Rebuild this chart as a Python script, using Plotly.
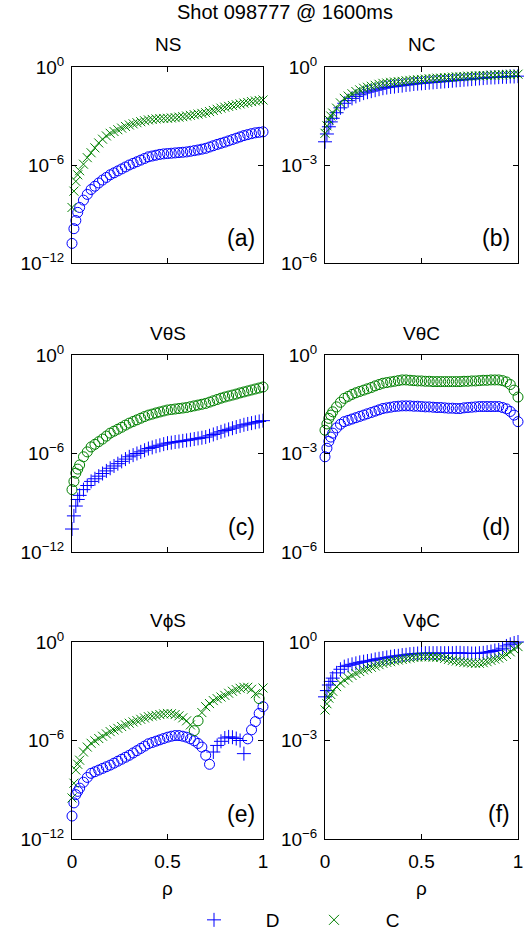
import plotly.graph_objects as go

# ---------------- data (log10 of magnitude) ----------------
RHO = [0.00, 0.01, 0.02, 0.03, 0.04, 0.06, 0.08, 0.10, 0.12, 0.14,
       0.16, 0.18, 0.20, 0.22, 0.24, 0.26, 0.28, 0.30, 0.32, 0.34,
       0.36, 0.38, 0.40, 0.42, 0.44, 0.46, 0.48, 0.50, 0.52, 0.54,
       0.56, 0.58, 0.60, 0.62, 0.64, 0.66, 0.68, 0.70, 0.72, 0.74,
       0.76, 0.78, 0.80, 0.82, 0.84, 0.86, 0.88, 0.90, 0.92, 0.94,
       0.96, 0.98, 1.00]

NS_D = [-10.8, -9.9, -9.4, -8.9, -8.6, -8.15, -7.8, -7.5, -7.3, -7.1,
        -6.92, -6.76, -6.6, -6.48, -6.36, -6.24, -6.12, -6.0, -5.9, -5.8,
        -5.7, -5.6, -5.5, -5.45, -5.4, -5.35, -5.32, -5.3, -5.28, -5.26,
        -5.24, -5.22, -5.2, -5.16, -5.12, -5.08, -5.03, -4.98, -4.9, -4.82,
        -4.74, -4.67, -4.6, -4.52, -4.44, -4.36, -4.28, -4.2, -4.14, -4.08,
        -4.03, -4.0, -3.97]
NS_C = [-8.6, -7.6, -7.0, -6.6, -6.35, -5.95, -5.55, -5.25, -4.95, -4.65,
        -4.42, -4.22, -4.06, -3.95, -3.84, -3.74, -3.64, -3.55, -3.48, -3.41,
        -3.35, -3.29, -3.24, -3.21, -3.18, -3.16, -3.15, -3.14, -3.12, -3.10,
        -3.07, -3.04, -3.0, -2.96, -2.92, -2.88, -2.84, -2.80, -2.73, -2.66,
        -2.59, -2.52, -2.46, -2.41, -2.36, -2.31, -2.26, -2.21, -2.17, -2.12,
        -2.08, -2.05, -2.02]

NC_D = [-2.29, -2.05, -1.83, -1.68, -1.57, -1.40, -1.25, -1.11, -1.03, -0.96,
        -0.9, -0.85, -0.8, -0.77, -0.74, -0.71, -0.68, -0.65, -0.63, -0.61,
        -0.6, -0.58, -0.57, -0.55, -0.54, -0.52, -0.51, -0.5, -0.49, -0.48,
        -0.47, -0.46, -0.45, -0.44, -0.43, -0.42, -0.41, -0.4, -0.39, -0.38,
        -0.37, -0.36, -0.35, -0.34, -0.33, -0.32, -0.32, -0.31, -0.30, -0.30,
        -0.29, -0.29, -0.28]
NC_C = [-2.03, -1.8, -1.62, -1.5, -1.41, -1.26, -1.1, -0.96, -0.89, -0.82,
        -0.75, -0.7, -0.65, -0.62, -0.59, -0.56, -0.53, -0.5, -0.49, -0.47,
        -0.46, -0.45, -0.44, -0.42, -0.41, -0.4, -0.39, -0.38, -0.37, -0.36,
        -0.35, -0.34, -0.34, -0.33, -0.32, -0.31, -0.3, -0.3, -0.29, -0.28,
        -0.28, -0.27, -0.27, -0.26, -0.26, -0.25, -0.25, -0.24, -0.24, -0.23,
        -0.23, -0.22, -0.22]

VTS_D = [-10.6, -9.8, -9.2, -8.8, -8.55, -8.2, -7.95, -7.7, -7.54, -7.38,
         -7.22, -7.06, -6.9, -6.76, -6.62, -6.48, -6.34, -6.2, -6.1, -6.0,
         -5.9, -5.8, -5.7, -5.63, -5.56, -5.5, -5.43, -5.37, -5.34, -5.3,
         -5.27, -5.23, -5.2, -5.16, -5.12, -5.08, -5.04, -5.0, -4.92, -4.84,
         -4.76, -4.68, -4.6, -4.53, -4.46, -4.39, -4.32, -4.25, -4.2, -4.15,
         -4.1, -4.05, -4.0]
VTS_C = [-8.2, -7.7, -7.2, -6.95, -6.7, -6.2, -5.9, -5.6, -5.44, -5.28,
         -5.12, -4.94, -4.76, -4.64, -4.52, -4.4, -4.27, -4.15, -4.05, -3.95,
         -3.85, -3.75, -3.66, -3.6, -3.53, -3.47, -3.41, -3.35, -3.32, -3.29,
         -3.26, -3.23, -3.2, -3.15, -3.1, -3.05, -3.0, -2.95, -2.87, -2.79,
         -2.71, -2.63, -2.56, -2.5, -2.44, -2.38, -2.31, -2.25, -2.19, -2.13,
         -2.07, -2.01, -1.95]

VTC_D = [-3.1, -2.84, -2.63, -2.5, -2.38, -2.22, -2.11, -2.03, -1.99, -1.95,
         -1.91, -1.87, -1.83, -1.79, -1.75, -1.71, -1.67, -1.63, -1.61, -1.59,
         -1.57, -1.56, -1.55, -1.55, -1.55, -1.56, -1.56, -1.57, -1.58, -1.58,
         -1.59, -1.6, -1.6, -1.61, -1.62, -1.62, -1.63, -1.63, -1.61, -1.6,
         -1.59, -1.58, -1.57, -1.57, -1.57, -1.57, -1.57, -1.57, -1.6, -1.64,
         -1.72, -1.83, -2.03]
VTC_C = [-2.29, -2.1, -1.93, -1.83, -1.73, -1.58, -1.44, -1.32, -1.26, -1.2,
         -1.15, -1.11, -1.07, -1.03, -0.99, -0.94, -0.9, -0.86, -0.84, -0.82,
         -0.8, -0.78, -0.76, -0.76, -0.77, -0.78, -0.79, -0.79, -0.8, -0.8,
         -0.81, -0.81, -0.81, -0.81, -0.81, -0.81, -0.81, -0.81, -0.8, -0.8,
         -0.79, -0.79, -0.78, -0.77, -0.77, -0.76, -0.76, -0.76, -0.78, -0.82,
         -0.9, -1.07, -1.28]

VPS_D = [-10.6, -9.8, -9.3, -9.1, -8.9, -8.54, -8.25, -8.0, -7.9, -7.8,
         -7.7, -7.6, -7.5, -7.38, -7.26, -7.14, -7.02, -6.9, -6.76, -6.62,
         -6.48, -6.34, -6.2, -6.12, -6.04, -5.96, -5.88, -5.8, -5.74, -5.7,
         -5.7, -5.74, -5.8, -5.9, -6.02, -6.18, -6.4, -6.9, -7.45, -6.7,
         -6.3, -6.05, -5.85, -5.78, -5.8, -5.88, -6.0, -6.8, -5.9, -5.35,
         -4.85, -4.35, -3.94]
VPS_C = [-9.5, -8.6, -7.8, -7.45, -7.2, -6.7, -6.4, -6.17, -6.02, -5.88,
         -5.74, -5.6, -5.46, -5.36, -5.26, -5.15, -5.05, -4.95, -4.87, -4.79,
         -4.71, -4.63, -4.55, -4.51, -4.47, -4.42, -4.38, -4.35, -4.37, -4.42,
         -4.5, -4.62, -4.8, -5.05, -5.4, -4.8, -4.3, -3.94, -3.75, -3.57,
         -3.45, -3.35, -3.25, -3.12, -3.0, -2.9, -2.82, -2.76, -2.76, -2.88,
         -3.15, -3.45, -2.8]

VPC_D = [-1.67, -1.48, -1.31, -1.2, -1.1, -0.94, -0.83, -0.75, -0.71, -0.68,
         -0.65, -0.62, -0.6, -0.58, -0.56, -0.53, -0.51, -0.49, -0.47, -0.45,
         -0.43, -0.42, -0.4, -0.39, -0.37, -0.36, -0.35, -0.34, -0.34, -0.34,
         -0.34, -0.34, -0.34, -0.34, -0.34, -0.34, -0.33, -0.33, -0.34, -0.34,
         -0.35, -0.35, -0.34, -0.33, -0.31, -0.29, -0.26, -0.24, -0.19, -0.12,
         -0.07, -0.03, 0.0]
VPC_C = [-2.07, -1.88, -1.71, -1.6, -1.5, -1.36, -1.25, -1.16, -1.09, -1.02,
         -0.96, -0.9, -0.85, -0.81, -0.77, -0.73, -0.69, -0.65, -0.62, -0.6,
         -0.57, -0.55, -0.53, -0.51, -0.49, -0.47, -0.46, -0.45, -0.45, -0.45,
         -0.46, -0.46, -0.47, -0.5, -0.53, -0.56, -0.58, -0.6, -0.62, -0.63,
         -0.64, -0.65, -0.65, -0.63, -0.6, -0.56, -0.52, -0.49, -0.44, -0.38,
         -0.3, -0.22, -0.14]

# index ranges (inclusive) where the quantity is negative (drawn as circles)
NS_D_NEG = [(0, 52)]
NS_C_NEG = []
NC_D_NEG = []
NC_C_NEG = []
VTS_D_NEG = []
VTS_C_NEG = [(0, 52)]
VTC_D_NEG = [(0, 52)]
VTC_C_NEG = [(0, 52)]
VPS_D_NEG = [(0, 38), (48, 52)]
VPS_C_NEG = [(34, 35), (51, 51)]
VPC_D_NEG = []
VPC_C_NEG = []

TITLES = ["NS", "NC", "VθS", "VθC", "VϕS", "VϕC"]
LABELS = ["(a)", "(b)", "(c)", "(d)", "(e)", "(f)"]
YRANGES = [(-12, 0), (-6, 0), (-12, 0), (-6, 0), (-12, 0), (-6, 0)]
YTICKS = [[-12, -6, 0], [-6, -3, 0], [-12, -6, 0], [-6, -3, 0], [-12, -6, 0], [-6, -3, 0]]
XTICKS = [0, 0.5, 1]
XTICKTEXT = ["0", "0.5", "1"]
SERIES_NAMES = ["D", "C"]
SUPTITLE = "Shot 098777 @ 1600ms"

PANELS = [
    (NS_D, NS_D_NEG, NS_C, NS_C_NEG),
    (NC_D, NC_D_NEG, NC_C, NC_C_NEG),
    (VTS_D, VTS_D_NEG, VTS_C, VTS_C_NEG),
    (VTC_D, VTC_D_NEG, VTC_C, VTC_C_NEG),
    (VPS_D, VPS_D_NEG, VPS_C, VPS_C_NEG),
    (VPC_D, VPC_D_NEG, VPC_C, VPC_C_NEG),
]

# ---------------- styling ----------------
W, H = 524, 937
FONT = "Liberation Sans, Arial, Helvetica, sans-serif"
BLUE = "rgb(0,0,255)"
GREEN = "rgb(0,128,0)"
COLX = [(72, 263), (325, 518)]
ROWY = [(67, 263), (355, 552), (642, 839)]
FS = 19


def px_x(p):
    return p / W


def px_y(p):
    return 1 - p / H


def neg_mask(ranges, n):
    m = [False] * n
    for a, b in ranges:
        for i in range(a, b + 1):
            m[i] = True
    return m


fig = go.Figure()
for k, (dv, dneg, cv, cneg) in enumerate(PANELS):
    xa = "x" if k == 0 else f"x{k + 1}"
    ya = "y" if k == 0 else f"y{k + 1}"
    for vals, neg, color, sym, sz in ((dv, dneg, BLUE, "cross-thin-open", 10),
                                      (cv, cneg, GREEN, "x-thin-open", 9)):
        m = neg_mask(neg, len(RHO))
        pos_x = [r for r, f in zip(RHO, m) if not f]
        pos_y = [10 ** v for v, f in zip(vals, m) if not f]
        neg_x = [r for r, f in zip(RHO, m) if f]
        neg_y = [10 ** v for v, f in zip(vals, m) if f]
        if pos_x:
            fig.add_trace(go.Scatter(
                x=pos_x, y=pos_y, mode="markers", xaxis=xa, yaxis=ya,
                showlegend=False, cliponaxis=False,
                marker=dict(symbol=sym, size=sz, color=color,
                            line=dict(width=1, color=color))))
        if neg_x:
            fig.add_trace(go.Scatter(
                x=neg_x, y=neg_y, mode="markers", xaxis=xa, yaxis=ya,
                showlegend=False, cliponaxis=False,
                marker=dict(symbol="circle-open", size=10, color=color,
                            line=dict(width=1, color=color))))

# legend-only entries (one small legend per series, placed side by side)
SP = "\u00a0" * 6
fig.add_trace(go.Scatter(x=[None], y=[None], mode="markers", name=SP + SERIES_NAMES[0],
                         legend="legend",
                         marker=dict(symbol="cross-thin-open", size=10, color=BLUE,
                                     line=dict(width=1, color=BLUE))))
fig.add_trace(go.Scatter(x=[None], y=[None], mode="markers", name=SP + SERIES_NAMES[1],
                         legend="legend2",
                         marker=dict(symbol="x-thin-open", size=10, color=GREEN,
                                     line=dict(width=1, color=GREEN))))


def legend_at(xpx):
    return dict(orientation="h", xref="container", yref="container",
                x=(xpx - 21) / W, y=1 - 920 / H, xanchor="left",
                yanchor="middle", font=dict(size=FS), itemwidth=30,
                bgcolor="rgba(0,0,0,0)", borderwidth=0)


layout = dict(
    template="none",
    width=W, height=H, margin=dict(l=0, r=0, t=0, b=0, autoexpand=False),
    paper_bgcolor="white", plot_bgcolor="white",
    font=dict(family=FONT, size=FS, color="black"),
    showlegend=True,
    legend=legend_at(215),
    legend2=legend_at(335),
)

annotations = []
for k in range(6):
    r, c = divmod(k, 2)
    x0, x1 = COLX[c]
    y0, y1 = ROWY[r]
    xn = "xaxis" if k == 0 else f"xaxis{k + 1}"
    yn = "yaxis" if k == 0 else f"yaxis{k + 1}"
    ya = "y" if k == 0 else f"y{k + 1}"
    xa = "x" if k == 0 else f"x{k + 1}"
    lo, hi = YRANGES[k]
    tv = YTICKS[k]
    tt = ["10<sup>0</sup>" if v == 0 else f"10<sup>−{abs(v)}</sup>" for v in tv]
    layout[xn] = dict(domain=[px_x(x0), px_x(x1)], anchor=ya, range=[0, 1],
                      tickvals=XTICKS, ticktext=XTICKTEXT, ticks="inside",
                      ticklen=5, tickcolor="black", showline=True,
                      linecolor="black", linewidth=1, mirror="ticks",
                      showgrid=False, zeroline=False, automargin=False,
                      showticklabels=(r == 2), tickfont=dict(size=FS),
                      ticklabelstandoff=5)
    layout[yn] = dict(domain=[px_y(y1), px_y(y0)], anchor=xa, type="log",
                      range=[lo, hi], tickvals=[10 ** v for v in tv],
                      ticktext=tt, ticks="inside", ticklen=5,
                      tickcolor="black", showline=True, linecolor="black",
                      linewidth=1, mirror="ticks", showgrid=False,
                      zeroline=False, automargin=False, tickfont=dict(size=FS),
                      ticklabelstandoff=3)
    # subplot title
    annotations.append(dict(text=TITLES[k], x=px_x((x0 + x1) / 2),
                            y=px_y(y0 - 22), xref="paper", yref="paper",
                            showarrow=False, font=dict(size=FS),
                            xanchor="center", yanchor="middle"))
    # panel label
    annotations.append(dict(text=LABELS[k], x=px_x(x1 - 6), y=px_y(y1 - 25),
                            xref="paper", yref="paper", showarrow=False,
                            font=dict(size=23), xanchor="right",
                            yanchor="middle"))
    if r == 2:
        annotations.append(dict(text="ρ", x=px_x((x0 + x1) / 2), y=px_y(888),
                                xref="paper", yref="paper", showarrow=False,
                                font=dict(size=FS), xanchor="center",
                                yanchor="middle"))

annotations.append(dict(text=SUPTITLE, x=px_x(285), y=px_y(12), xref="paper",
                        yref="paper", showarrow=False, font=dict(size=20),
                        xanchor="center", yanchor="middle"))
layout["annotations"] = annotations
fig.update_layout(**layout)
fig.write_html("out.html")
